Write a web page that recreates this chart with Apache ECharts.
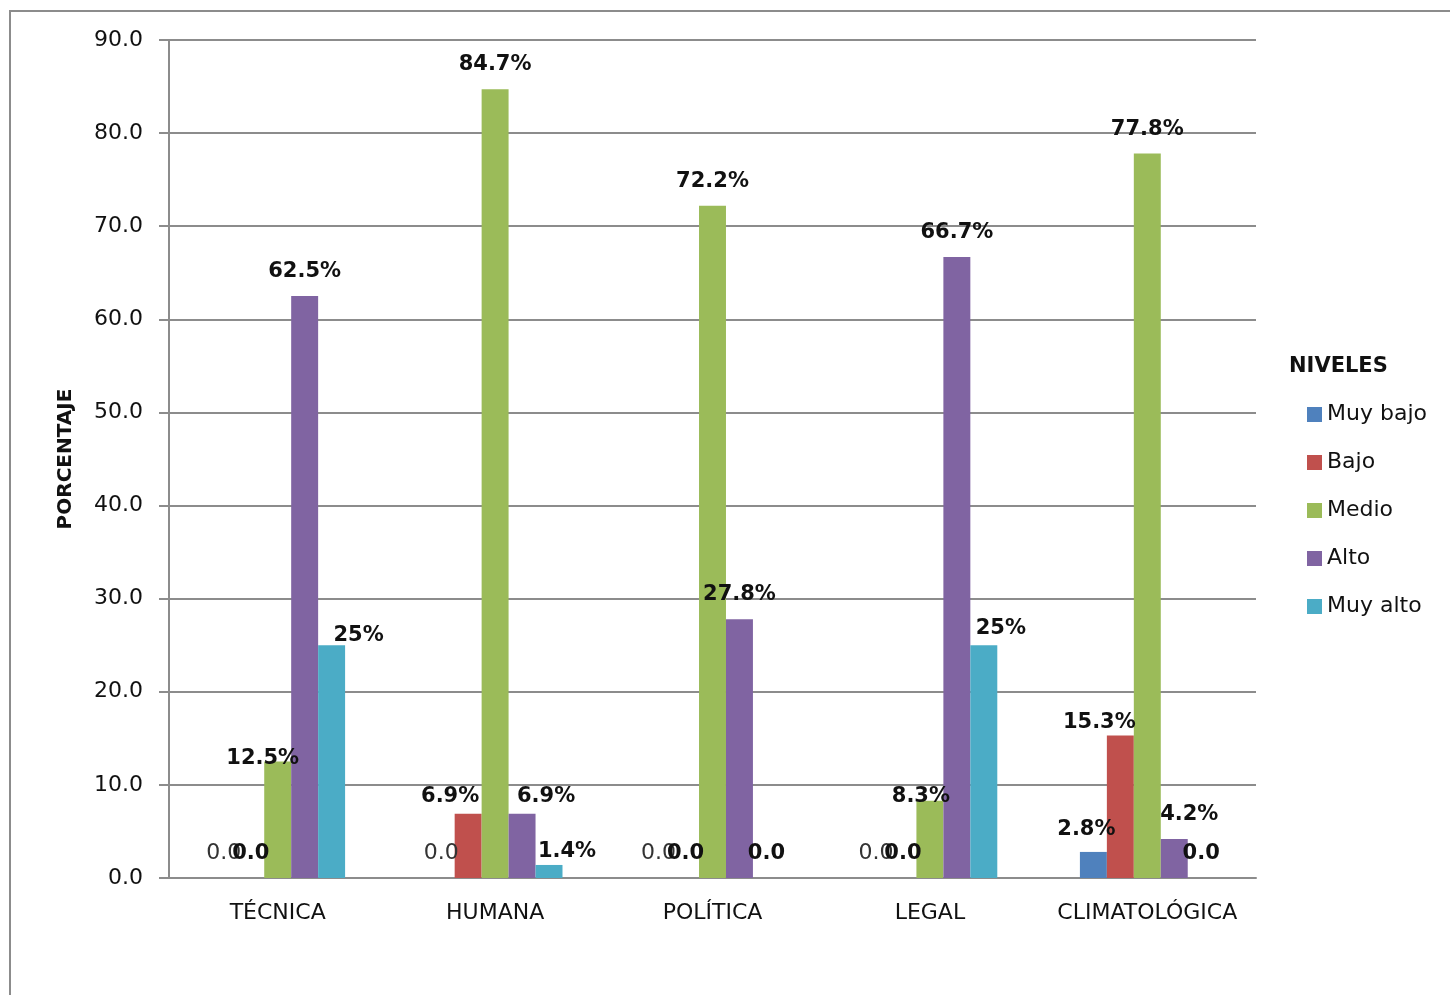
<!DOCTYPE html>
<html>
<head>
<meta charset="utf-8">
<script src="https://cdn.jsdelivr.net/npm/echarts@6/dist/echarts.min.js"></script>
<style>
html,body{margin:0;padding:0;background:#fff;}
#chart{width:1450px;height:995px;}
</style>
</head>
<body>
<div id="chart"></div>
<script>
// ---- DATA ----
const categories = ['TÉCNICA', 'HUMANA', 'POLÍTICA', 'LEGAL', 'CLIMATOLÓGICA'];
const seriesNames = ['Muy bajo', 'Bajo', 'Medio', 'Alto', 'Muy alto'];
const muyBajo = [0.0, 0.0, 0.0, 0.0, 2.8];
const bajo    = [0.0, 6.9, 0.0, 0.0, 15.3];
const medio   = [12.5, 84.7, 72.2, 8.3, 77.8];
const alto    = [62.5, 6.9, 27.8, 66.7, 4.2];
const muyAlto = [25, 1.4, 0.0, 25, 0.0];
const yTicks = [0, 10, 20, 30, 40, 50, 60, 70, 80, 90];

// ---- STYLE / LAYOUT ----
const colors = ['#4F81BD', '#C0504D', '#9BBB59', '#8064A2', '#4BACC6'];
const FONT = 'DejaVu Sans';
// manual label nudges [dx, dy] keyed "series|category"
const labelNudge = {
  '2|0': [-15, 21], '4|0': [27, 15],
  '1|1': [-18, 7], '3|1': [24, 7], '4|1': [18, 11],
  '2|3': [-9, 20], '4|3': [17, 8],
  '0|4': [-7, 2], '1|4': [-21, 12], '3|4': [15, 0]
};

const allSeries = [muyBajo, bajo, medio, alto, muyAlto];

function fmt(v) { return v === 0 ? '0.0' : v + '%'; }

const series = allSeries.map((arr, si) => ({
  name: seriesNames[si],
  type: 'bar',
  barGap: '0%',
  barCategoryGap: '38%',
  itemStyle: { color: colors[si] },
  data: arr.map((v, ci) => {
    const n = labelNudge[si + '|' + ci] || [0, 0];
    const plain = (si === 0 && v === 0);
    return {
      value: v,
      label: {
        show: true,
        position: 'top',
        distance: 14,
        offset: n,
        formatter: p => fmt(p.value),
        fontFamily: FONT,
        fontSize: plain ? 22 : 21,
        fontWeight: plain ? 'normal' : 'bold',
        color: plain ? '#333' : '#111'
      }
    };
  })
}));

const chart = echarts.init(document.getElementById('chart'), null, { renderer: 'canvas' });
chart.setOption({
  backgroundColor: '#fff',
  animation: false,
  color: colors,
  title: {
    text: 'NIVELES',
    left: 1284, top: 351,
    textStyle: { fontFamily: FONT, fontSize: 21, fontWeight: 'bold', color: '#111' }
  },
  legend: {
    orient: 'vertical',
    left: 1302, top: 398,
    itemWidth: 15, itemHeight: 15,
    itemGap: 25,
    itemTextGap: 10,
    icon: 'rect',
    data: seriesNames,
    textStyle: { fontFamily: FONT, fontSize: 22, color: '#111', lineHeight: 23 }
  },
  grid: { left: 169, right: 194, top: 40, bottom: 117, containLabel: false },
  xAxis: {
    type: 'category',
    data: categories,
    axisLine: { lineStyle: { color: '#8c8c8c', width: 2 } },
    axisTick: { show: false },
    axisLabel: { interval: 0, margin: 24, fontFamily: FONT, fontSize: 22, color: '#111' }
  },
  yAxis: {
    type: 'value',
    min: yTicks[0], max: yTicks[yTicks.length - 1], interval: 10,
    name: 'PORCENTAJE',
    nameLocation: 'middle',
    nameRotate: 90,
    nameGap: 93,
    nameTextStyle: { fontFamily: FONT, fontSize: 20, fontWeight: 'bold', color: '#111' },
    axisLine: { show: true, lineStyle: { color: '#8c8c8c', width: 2 } },
    axisTick: { show: true, length: 10, lineStyle: { color: '#8c8c8c', width: 2 } },
    splitLine: { lineStyle: { color: '#8c8c8c', width: 2 } },
    axisLabel: {
      margin: 26, fontFamily: FONT, fontSize: 22, color: '#111',
      formatter: v => v.toFixed(1)
    }
  },
  graphic: [{
    type: 'rect',
    shape: { x: 10, y: 11, width: 1460, height: 1000 },
    style: { fill: 'none', stroke: '#8c8c8c', lineWidth: 2 },
    silent: true
  }],
  series: series
});
</script>
</body>
</html>
